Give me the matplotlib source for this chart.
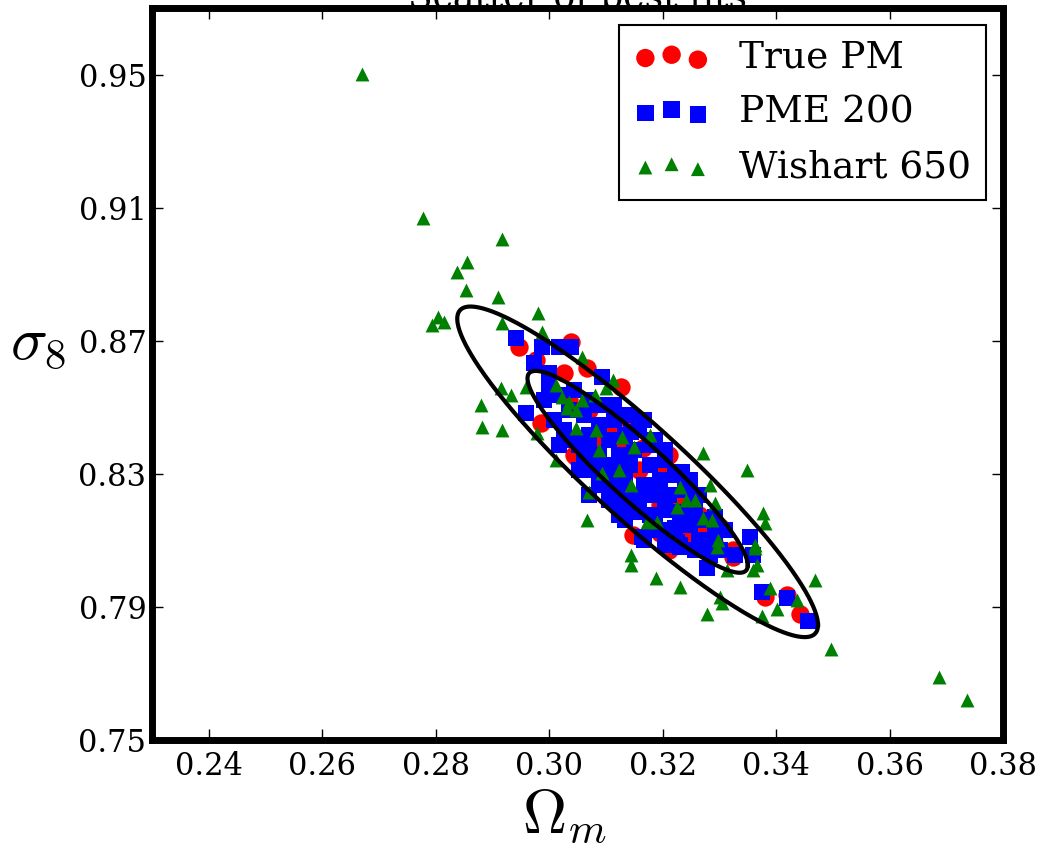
import numpy as np
import matplotlib
matplotlib.use("Agg")
import matplotlib.pyplot as plt

plt.rcParams['font.family'] = ['DejaVu Serif']
plt.rcParams['mathtext.fontset'] = 'cm'

# best fit (Omega_m, sigma_8) values
pm_x = [0.2947, 0.3039, 0.2977, 0.3067, 0.3027, 0.3127, 0.2986, 0.3044, 0.3142, 0.3165,
        0.3212, 0.3204, 0.3147, 0.3195, 0.3265, 0.3301, 0.3324, 0.3324, 0.3381, 0.3420,
        0.3442, 0.3212, 0.3048, 0.3071, 0.3106, 0.3159, 0.3186, 0.3230, 0.3265, 0.3124,
        0.3088, 0.3292, 0.3248, 0.3195, 0.3035]
pm_y = [0.8680, 0.8695, 0.8641, 0.8617, 0.8602, 0.8560, 0.8452, 0.8356, 0.8455, 0.8377,
        0.8356, 0.8311, 0.8115, 0.8121, 0.8139, 0.8139, 0.8070, 0.8049, 0.7929, 0.7935,
        0.7880, 0.8070, 0.8350, 0.8491, 0.8431, 0.8311, 0.8250, 0.8220, 0.8175, 0.8386,
        0.8401, 0.8085, 0.8115, 0.8205, 0.8521]

pme_x = [0.2942, 0.2988, 0.3018, 0.3039, 0.2973, 0.3000, 0.3094, 0.2959, 0.3065, 0.3119,
         0.3145, 0.3235, 0.3248, 0.3225, 0.3278, 0.3354, 0.3359, 0.3278, 0.3375, 0.3420,
         0.3457, 0.3071, 0.3163, 0.3230, 0.3053,
         0.3018, 0.3044, 0.3071, 0.3035, 0.3062, 0.3088, 0.3009, 0.3088, 0.3115, 0.3071,
         0.3106, 0.3133, 0.3159, 0.3053, 0.3088, 0.3124, 0.3150, 0.3177, 0.3080, 0.3115,
         0.3142, 0.3177, 0.3204, 0.3106, 0.3133, 0.3168, 0.3195, 0.3221, 0.3124, 0.3159,
         0.3186, 0.3212, 0.3239, 0.3177, 0.3204, 0.3230, 0.3257, 0.3195, 0.3221, 0.3248,
         0.3274, 0.3230, 0.3265, 0.3292, 0.3168, 0.3133, 0.3301, 0.3328, 0.3088,
         0.3027, 0.3044, 0.3018, 0.3071, 0.3097, 0.3062, 0.3133, 0.3159, 0.3186, 0.3204,
         0.3257, 0.3283, 0.3150, 0.3106, 0.3124, 0.3248, 0.3265, 0.3292, 0.3310, 0.3115,
         0.3142, 0.3168, 0.3186, 0.3204, 0.2991, 0.3000]
pme_y = [0.8708, 0.8680, 0.8680, 0.8680, 0.8632, 0.8602, 0.8590, 0.8482, 0.8332, 0.8476,
         0.8425, 0.8305, 0.8169, 0.8094, 0.8100, 0.8109, 0.8055, 0.8016, 0.7944, 0.7926,
         0.7859, 0.8235, 0.8109, 0.8079, 0.8311,
         0.8536, 0.8551, 0.8521, 0.8491, 0.8476, 0.8506, 0.8461, 0.8446, 0.8461, 0.8416,
         0.8401, 0.8416, 0.8431, 0.8386, 0.8356, 0.8356, 0.8371, 0.8386, 0.8311, 0.8311,
         0.8326, 0.8326, 0.8341, 0.8265, 0.8281, 0.8265, 0.8281, 0.8296, 0.8220, 0.8220,
         0.8235, 0.8235, 0.8250, 0.8175, 0.8190, 0.8184, 0.8205, 0.8130, 0.8136, 0.8145,
         0.8160, 0.8085, 0.8100, 0.8115, 0.8100, 0.8160, 0.8070, 0.8055, 0.8265,
         0.8431, 0.8401, 0.8386, 0.8371, 0.8326, 0.8341, 0.8244, 0.8184, 0.8145, 0.8085,
         0.8070, 0.8055, 0.8205, 0.8220, 0.8175, 0.8281, 0.8235, 0.8169, 0.8130, 0.8506,
         0.8476, 0.8461, 0.8401, 0.8371, 0.8521, 0.8566]

wish_x = [0.3023, 0.3035, 0.3048, 0.3032, 0.3012, 0.3101, 0.3112, 0.3058, 0.3048, 0.3083,
          0.3129, 0.3150, 0.3177, 0.3230, 0.3283, 0.3242, 0.3225, 0.3257, 0.3292, 0.3271,
          0.3287, 0.3297, 0.3296, 0.3363, 0.3191, 0.3145, 0.3172, 0.3094, 0.3071, 0.3012,
          0.3313, 0.3389, 0.3437, 0.3363, 0.2979, 0.3058, 0.3080, 0.3124, 0.3088,
          0.2671, 0.2777, 0.2917, 0.2855, 0.2837, 0.2853, 0.2910, 0.2805, 0.2793, 0.2814,
          0.2981, 0.2917, 0.2988, 0.2959, 0.2915, 0.2933, 0.2880, 0.2882, 0.2917, 0.3271,
          0.3349, 0.3377, 0.3381, 0.3366, 0.3359, 0.3469, 0.3402, 0.3375, 0.3301, 0.3305,
          0.3278, 0.3496, 0.3687, 0.3736, 0.3067, 0.3145, 0.3145, 0.3189, 0.3230]
wish_y = [0.8530, 0.8515, 0.8491, 0.8497, 0.8566, 0.8557, 0.8581, 0.8650, 0.8437, 0.8431,
          0.8410, 0.8380, 0.8416, 0.8259, 0.8265, 0.8220, 0.8199, 0.8220, 0.8211, 0.8166,
          0.8160, 0.8100, 0.8079, 0.8085, 0.8154, 0.8265, 0.8154, 0.8302, 0.8244, 0.8341,
          0.8010, 0.7956, 0.7920, 0.8076, 0.8422, 0.8521, 0.8536, 0.8311, 0.8371,
          0.9502, 0.9068, 0.9005, 0.8936, 0.8906, 0.8852, 0.8831, 0.8771, 0.8747, 0.8756,
          0.8783, 0.8753, 0.8726, 0.8560, 0.8557, 0.8536, 0.8506, 0.8440, 0.8431, 0.8362,
          0.8311, 0.8181, 0.8151, 0.8025, 0.8010, 0.7980, 0.7895, 0.7874, 0.7929, 0.7911,
          0.7880, 0.7775, 0.7688, 0.7619, 0.8160, 0.8055, 0.8025, 0.7986, 0.7959]

# Fisher-like contour: centre, widths, correlation, delta chi^2 levels (68%, 95%)
ell_center = [0.3156, 0.8306]
ell_sigma = [0.0128, 0.0200]
ell_rho = -0.926
ell_levels = [2.30, 6.17]

x_ticks = [0.24, 0.26, 0.28, 0.30, 0.32, 0.34, 0.36, 0.38]
y_ticks = [0.75, 0.79, 0.83, 0.87, 0.91, 0.95]

fig = plt.figure(figsize=(10.41, 8.5), dpi=100)
ax = fig.add_axes([0.146, 0.1294, 0.8175, 0.8612])

ax.scatter(pm_x, pm_y, s=175, c='red', marker='o', linewidths=0, label='True PM')
ax.scatter(pme_x, pme_y, s=140, c='blue', marker='s', linewidths=0, label='PME 200')
ax.scatter(wish_x, wish_y, s=100, c='green', marker='^', linewidths=0, label='Wishart 650')

cov = np.array([[ell_sigma[0]**2, ell_rho*ell_sigma[0]*ell_sigma[1]],
                [ell_rho*ell_sigma[0]*ell_sigma[1], ell_sigma[1]**2]])
L = np.linalg.cholesky(cov)
t = np.linspace(0, 2*np.pi, 400)
circ = np.vstack([np.cos(t), np.sin(t)])
for k in ell_levels:
    pts = np.sqrt(k) * L @ circ
    ax.plot(ell_center[0] + pts[0], ell_center[1] + pts[1], color='black', lw=3, zorder=5)

ax.set_xlim(0.23, 0.38)
ax.set_ylim(0.75, 0.97)
ax.set_xticks(x_ticks)
ax.set_xticklabels(['%.2f' % v for v in x_ticks])
ax.set_yticks(y_ticks)
ax.set_yticklabels(['%.2f' % v for v in y_ticks])
ax.tick_params(direction='in', length=8, width=1, top=True, right=True, labelsize=22)
ax.tick_params(axis='x', pad=8)
ax.tick_params(axis='y', pad=4)
for sp in ax.spines.values():
    sp.set_linewidth(5)

ax.set_title('Scatter of best fits', fontsize=26, pad=0)
ax.set_xlabel(r'$\Omega_m$', fontsize=44)
ax.set_ylabel(r'$\sigma_8$', fontsize=44, rotation=0)
ax.xaxis.set_label_coords(0.485, -0.062)
ax.yaxis.set_label_coords(-0.134, 0.503)

leg = ax.legend(loc='upper right', scatterpoints=3, fontsize=27, fancybox=False,
                edgecolor='black', framealpha=1, borderaxespad=0.45, labelspacing=0.5)
leg.get_frame().set_linewidth(1.5)

fig.savefig('out.png', dpi=100)
